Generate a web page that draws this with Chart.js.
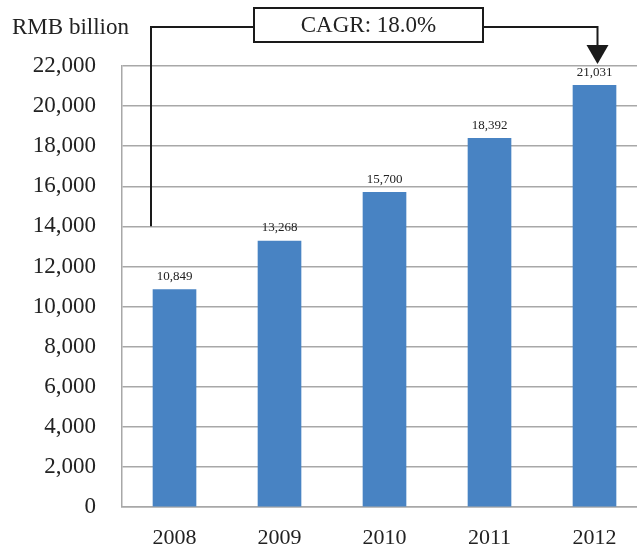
<!DOCTYPE html>
<html>
<head>
<meta charset="utf-8">
<script src="https://cdn.jsdelivr.net/npm/chart.js@4/dist/chart.umd.min.js"></script>
<style>
  html, body { margin: 0; padding: 0; background: #fff; overflow: hidden; }
  #wrap { width: 647px; height: 552px; }
</style>
</head>
<body>
<div id="wrap"><canvas id="myCanvas"></canvas></div>
<script>
const years = ["2008", "2009", "2010", "2011", "2012"];
const values = [10849, 13268, 15700, 18392, 21031];
const yTicks = [0, 2000, 4000, 6000, 8000, 10000, 12000, 14000, 16000, 18000, 20000, 22000];
const unitLabel = "RMB billion";
const cagrLabel = "CAGR: 18.0%";
const cagrFrom = 14000; // bracket starts at this level on the first bar

const serif = "'Liberation Serif', 'Times New Roman', serif";
const fmt = (v) => v.toLocaleString("en-US");

// value labels above each bar
const barLabels = {
  id: "barLabels",
  afterDatasetsDraw(chart) {
    const ctx = chart.ctx;
    const meta = chart.getDatasetMeta(0);
    ctx.save();
    ctx.font = "13px " + serif;
    ctx.fillStyle = "#222";
    ctx.textAlign = "center";
    ctx.textBaseline = "middle";
    meta.data.forEach((bar, i) => {
      ctx.fillText(fmt(values[i]), bar.x, bar.y - 13);
    });
    ctx.restore();
  }
};

// unit caption and the CAGR bracket with arrow
const cagrBracket = {
  id: "cagrBracket",
  afterDraw(chart) {
    const ctx = chart.ctx;
    const y = chart.scales.y;
    const meta = chart.getDatasetMeta(0);
    const first = meta.data[0];
    const last = meta.data[meta.data.length - 1];
    const xStart = first.x - first.width / 2 - 2;
    const yStart = y.getPixelForValue(cagrFrom);
    const xEnd = last.x + 3;
    const topY = 27;
    const tipY = y.getPixelForValue(y.max) - 2;
    const boxL = 254, boxR = 483, boxT = 8, boxB = 42;

    ctx.save();
    ctx.font = "23px " + serif;
    ctx.fillStyle = "#222";
    ctx.textAlign = "left";
    ctx.textBaseline = "middle";
    ctx.fillText(unitLabel, 12, 28);

    ctx.strokeStyle = "#1a1a1a";
    ctx.lineWidth = 2;
    ctx.beginPath();
    ctx.moveTo(xStart, yStart);
    ctx.lineTo(xStart, topY);
    ctx.lineTo(boxL, topY);
    ctx.moveTo(boxR, topY);
    ctx.lineTo(xEnd, topY);
    ctx.lineTo(xEnd, tipY - 18);
    ctx.stroke();

    ctx.fillStyle = "#1a1a1a";
    ctx.beginPath();
    ctx.moveTo(xEnd - 11, tipY - 19);
    ctx.lineTo(xEnd + 11, tipY - 19);
    ctx.lineTo(xEnd, tipY);
    ctx.closePath();
    ctx.fill();

    ctx.fillStyle = "#fff";
    ctx.fillRect(boxL, boxT, boxR - boxL, boxB - boxT);
    ctx.strokeRect(boxL, boxT, boxR - boxL, boxB - boxT);

    ctx.fillStyle = "#222";
    ctx.font = "23px " + serif;
    ctx.textAlign = "center";
    ctx.fillText(cagrLabel, (boxL + boxR) / 2, (boxT + boxB) / 2 + 1);
    ctx.restore();
  }
};

new Chart(document.getElementById("myCanvas").getContext("2d"), {
  type: "bar",
  data: {
    labels: years,
    datasets: [{
      data: values,
      backgroundColor: "#4883c3",
      barThickness: 43
    }]
  },
  options: {
    responsive: true,
    maintainAspectRatio: false,
    animation: false,
    layout: { padding: { top: 66, right: 0, left: 0, bottom: 0 } },
    plugins: { legend: { display: false }, tooltip: { enabled: false } },
    scales: {
      x: {
        grid: { display: false, drawTicks: false },
        border: { display: true, color: "#a8a8a8", width: 1.5 },
        ticks: { font: { family: serif, size: 22 }, color: "#222", padding: 18 },
        afterFit(scale) { scale.height = 45; }
      },
      y: {
        min: 0,
        max: 22000,
        afterBuildTicks(scale) { scale.ticks = yTicks.map((v) => ({ value: v })); },
        grid: { color: "#a8a8a8", lineWidth: 1.5, drawTicks: false },
        border: { display: true, color: "#a8a8a8", width: 1.5 },
        ticks: {
          font: { family: serif, size: 23 },
          color: "#222",
          padding: 26,
          callback: (v) => fmt(v)
        },
        afterFit(scale) { scale.width = 122; }
      }
    }
  },
  plugins: [barLabels, cagrBracket]
});
</script>
</body>
</html>
